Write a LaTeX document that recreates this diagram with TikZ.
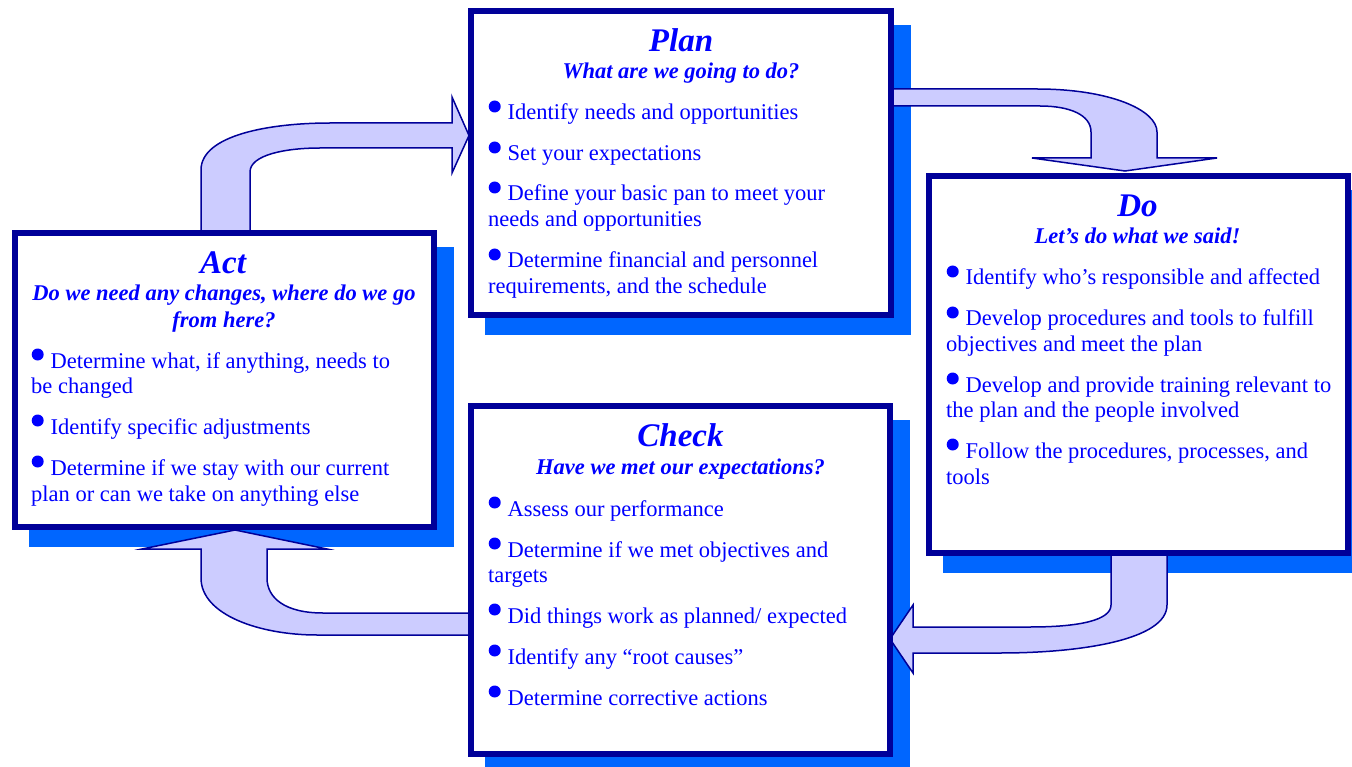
\documentclass[tikz,border=0pt]{standalone}
\usepackage{fontspec}
\setmainfont{Liberation Serif}
\definecolor{boxnavy}{HTML}{000099}
\definecolor{shadowblue}{HTML}{0066FF}
\definecolor{arrowfill}{HTML}{CCCCFF}
\definecolor{textblue}{HTML}{0000FF}
\newcommand\bul{\tikz[baseline=0pt]{\path (0pt,0pt) (19.5pt,0pt); \fill[textblue] (6.5pt,13.5pt) circle (6pt);}}
\tikzset{
  box/.style={draw=boxnavy, line width=6pt, fill=white, inner sep=0pt},
  shadowbox/.style={fill=shadowblue, draw=shadowblue, line width=6pt, inner sep=0pt},
  barrow/.style={fill=arrowfill, draw=boxnavy, line width=1.5pt, line join=miter},
  txt/.style={inner sep=0pt, anchor=base west, text=textblue, font=\fontsize{22.5}{26}\selectfont, yshift=-1pt},
  ttl/.style={inner sep=0pt, anchor=base, text=textblue, font=\fontsize{33}{36}\selectfont\bfseries\itshape, yshift=-1.5pt},
  subttl/.style={inner sep=0pt, anchor=base, text=textblue, font=\fontsize{22.5}{26}\selectfont\bfseries\itshape, yshift=-1pt}
}
\begin{document}
\begin{tikzpicture}[x=1pt,y=-1pt]
\useasboundingbox (0,0) rectangle (1352,767);
% shadows
\node[shadowbox, minimum width=420pt, minimum height=304pt] (plansh) at (698,180) {};
\node[shadowbox, minimum width=419pt, minimum height=377pt] (dosh) at (1155.5,381.5) {};
\node[shadowbox, minimum width=419pt, minimum height=348pt] (checksh) at (697.5,597) {};
\node[shadowbox, minimum width=419pt, minimum height=294pt] (actsh) at (241.5,397) {};
% arrows
\draw[barrow] (201,236) -- (201,170) .. controls (201,135) and (270,123) .. (330,123) -- (452,123) -- (452,97) -- (469,135.5) -- (452,173) -- (452,148) -- (320,148) .. controls (285,148) and (250,155) .. (250,172) -- (250,236) -- cycle;
\draw[barrow] (891,89) -- (1037,89) .. controls (1110,89) and (1157,110) .. (1157,132) -- (1157,158) -- (1217,158) -- (1125,171) -- (1032,158) -- (1091,158) -- (1091,132) .. controls (1091,115) and (1070,106) .. (1040,106) -- (891,106) -- cycle;
\draw[barrow] (1111,553) -- (1111,605) .. controls (1111,620) and (1080,627) .. (1030,627) -- (913,627) -- (913,605) -- (890,639) -- (913,673) -- (913,653) -- (1000,653) .. controls (1080,653) and (1167,640) .. (1167,605) -- (1167,553) -- cycle;
\draw[barrow] (471,613) -- (323,613) .. controls (285,613) and (267,598) .. (267,578) -- (267,549) -- (327,549) -- (235,530) -- (142,549) -- (201,549) -- (201,578) .. controls (201,615) and (260,635) .. (317,635) -- (471,635) -- cycle;
% boxes
\node[box, minimum width=420pt, minimum height=304pt] (plan) at (681,163) {};
\node[box, minimum width=419pt, minimum height=377pt] (do) at (1138.5,364.5) {};
\node[box, minimum width=419pt, minimum height=348pt] (check) at (680.5,580) {};
\node[box, minimum width=419pt, minimum height=294pt] (act) at (224.5,380) {};
% Plan text
\node[ttl] (plant) at (681,50) {Plan};
\node[subttl] (plans) at (681,78) {What are we going to do?};
\node[txt] (plan1) at (488,119) {\bul Identify needs and opportunities};
\node[txt] (plan2) at (488,160) {\bul Set your expectations};
\node[txt] (plan3) at (488,200) {\bul Define your basic pan to meet your};
\node[txt] (plan3b) at (488,226) {needs and opportunities};
\node[txt] (plan4) at (488,267) {\bul Determine financial and personnel};
\node[txt] (plan4b) at (488,293) {requirements, and the schedule};
% Do text
\node[ttl] (dot) at (1137.5,215) {Do};
\node[subttl] (dos) at (1137.5,243) {Let’s do what we said!};
\node[txt] (do1) at (946,284) {\bul Identify who’s responsible and affected};
\node[txt] (do2) at (946,325) {\bul Develop procedures and tools to fulfill};
\node[txt] (do2b) at (946,350) {objectives and meet the plan};
\node[txt] (do3) at (946,391) {\bul Develop and provide training relevant to};
\node[txt] (do3b) at (946,416) {the plan and the people involved};
\node[txt] (do4) at (946,457) {\bul Follow the procedures, processes, and};
\node[txt] (do4b) at (946,483) {tools};
% Check text
\node[ttl] (checkt) at (680.5,445) {Check};
\node[subttl] (checks) at (680.5,473) {Have we met our expectations?};
\node[txt] (check1) at (488,515) {\bul Assess our performance};
\node[txt] (check2) at (488,556) {\bul Determine if we met objectives and};
\node[txt] (check2b) at (488,581) {targets};
\node[txt] (check3) at (488,622) {\bul Did things work as planned/ expected};
\node[txt] (check4) at (488,663) {\bul Identify any “root causes”};
\node[txt] (check5) at (488,704) {\bul Determine corrective actions};
% Act text
\node[ttl] (actt) at (223,272) {Act};
\node[subttl] (acts) at (224,300) {Do we need any changes, where do we go};
\node[subttl] (acts2) at (224,326) {from here?};
\node[txt] (act1) at (31,367) {\bul Determine what, if anything, needs to};
\node[txt] (act1b) at (31,392) {be changed};
\node[txt] (act2) at (31,433) {\bul Identify specific adjustments};
\node[txt] (act3) at (31,474) {\bul Determine if we stay with our current};
\node[txt] (act3b) at (31,500) {plan or can we take on anything else};
\end{tikzpicture}
\end{document}
